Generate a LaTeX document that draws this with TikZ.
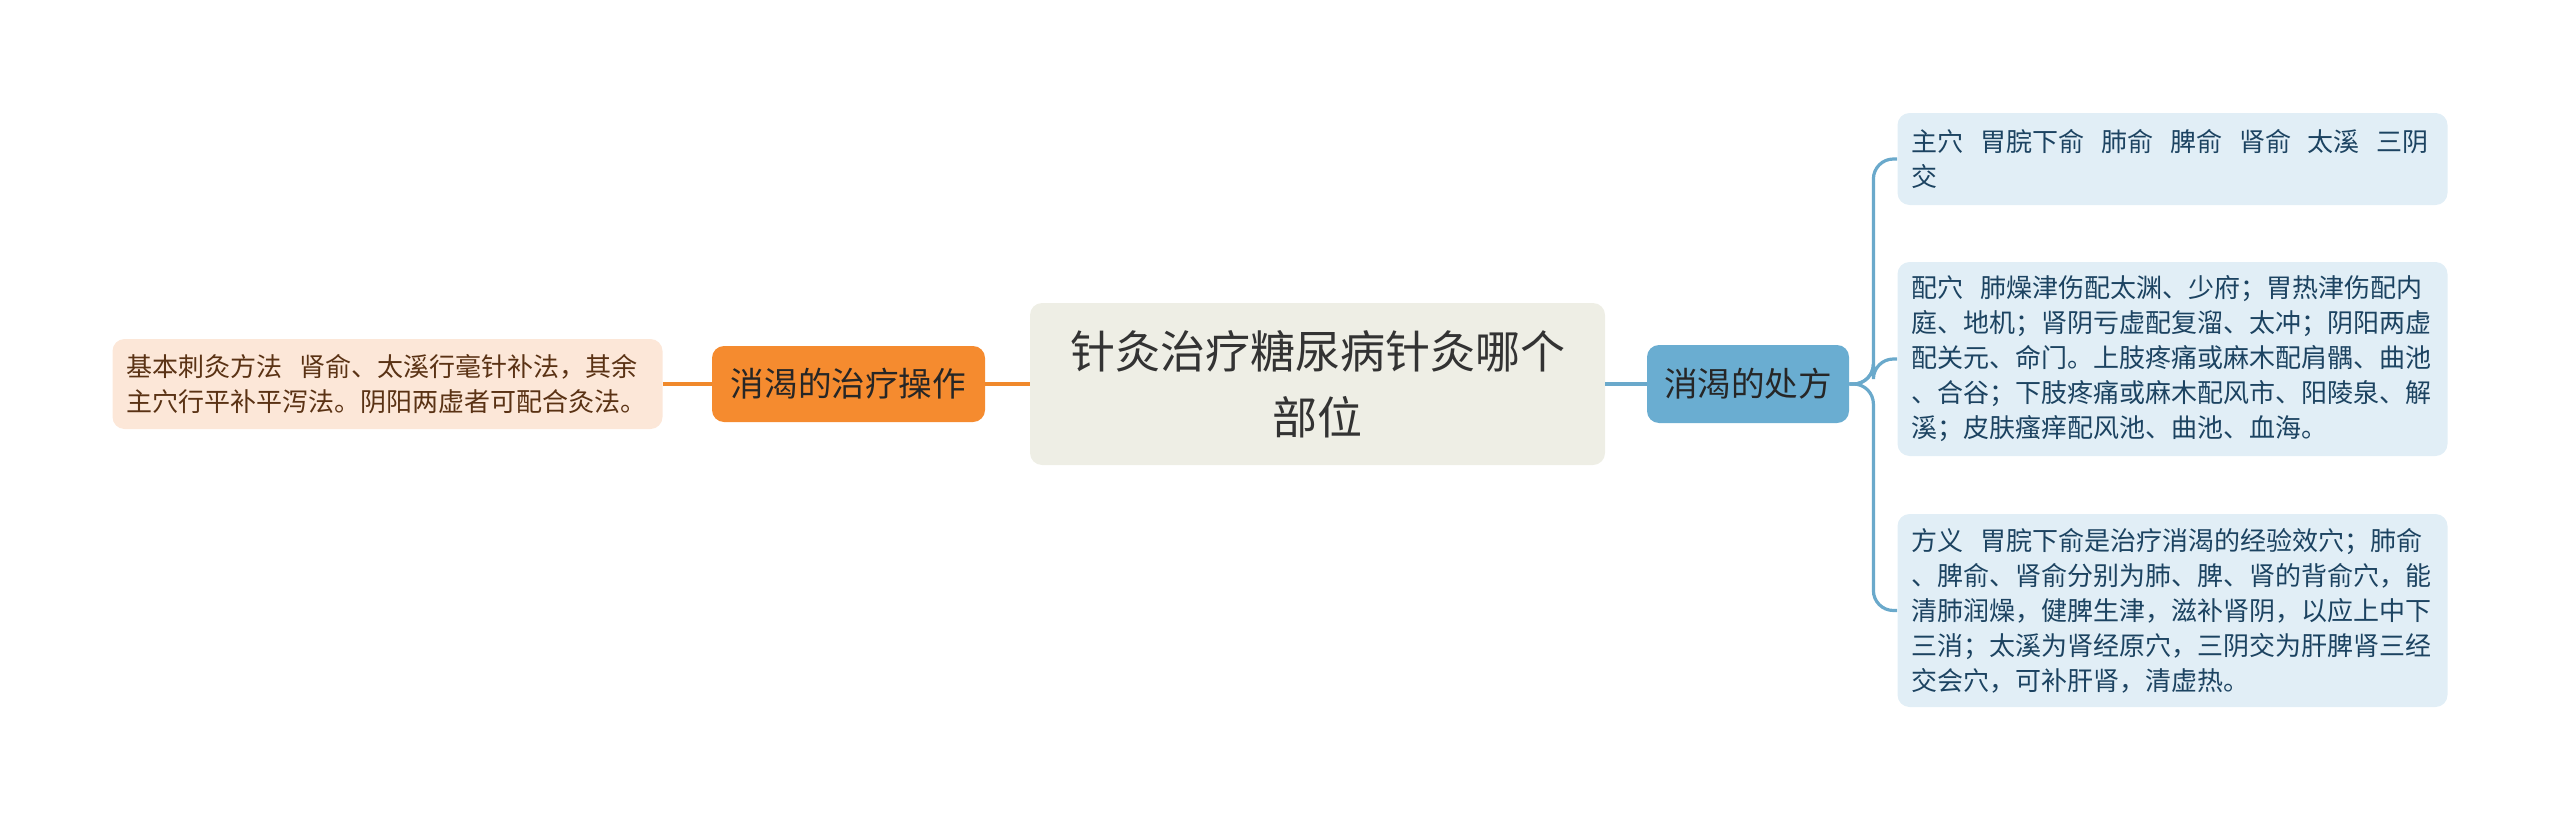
\documentclass[tikz,border=0pt]{standalone}
\usepackage{fontspec}
\setmainfont{Noto Sans CJK SC}
\definecolor{rootbg}{HTML}{EEEEE5}
\definecolor{orangebg}{HTML}{F58B2F}
\definecolor{peachbg}{HTML}{FCE7D8}
\definecolor{browntxt}{HTML}{5A3214}
\definecolor{bluebg}{HTML}{6AADD1}
\definecolor{paleblue}{HTML}{E1EEF6}
\definecolor{navytxt}{HTML}{1C4361}
\definecolor{orangeln}{HTML}{F0892B}
\definecolor{blueln}{HTML}{6AA9CB}

\begin{document}
\begin{tikzpicture}[x=.5pt,y=-.5pt,
    box/.style={rounded corners=6pt,inner ysep=0pt,anchor=center},
    topic/.style={box,fill=rootbg,text=black!80,align=center,
        minimum width=287.5pt,minimum height=81pt,
        font=\fontsize{22.5}{33}\selectfont},
    omain/.style={box,fill=orangebg,text=black!85,minimum width=136.5pt,
        minimum height=38pt,font=\fontsize{16.8}{20}\selectfont},
    bmain/.style={box,fill=bluebg,text=black!85,minimum width=101pt,
        minimum height=39pt,font=\fontsize{16.8}{20}\selectfont},
    leaf/.style={box,text width=261pt,inner xsep=7pt,align=left,
        font=\fontsize{13}{17.5}\selectfont},
    lleaf/.style={leaf,fill=peachbg,text=browntxt},
    rleaf/.style={leaf,fill=paleblue,text=navytxt},
    oline/.style={draw=orangeln,line width=1.6pt},
    bline/.style={draw=blueln,line width=1.6pt,rounded corners=10pt}]
    \useasboundingbox (0,0) rectangle (2560,819);
    \node[topic] (root) at (1317.5,384) {针灸治疗糖尿病针灸哪个\\部位};
    \node[omain] (zl) at (848.5,384) {消渴的治疗操作};
    \node[bmain] (cf) at (1748,384) {消渴的处方};
    \node[lleaf,minimum height=45pt] (cz) at (387.5,384)
        {基本刺灸方法\hspace{.65em}肾俞、太溪行毫针补法，其余\\
         主穴行平补平泻法。阴阳两虚者可配合灸法。};
    \node[rleaf,minimum height=46pt] (zx) at (2172.5,159)
        {主穴\hspace{.65em}胃脘下俞\hspace{.65em}肺俞\hspace{.65em}脾俞\hspace{.65em}肾俞\hspace{.65em}太溪\hspace{.65em}三阴\\
         交};
    \node[rleaf,minimum height=97pt] (px) at (2172.5,359)
        {配穴\hspace{.65em}肺燥津伤配太渊、少府；胃热津伤配内\\
         庭、地机；肾阴亏虚配复溜、太冲；阴阳两虚\\
         配关元、命门。上肢疼痛或麻木配肩髃、曲池\\
         、合谷；下肢疼痛或麻木配风市、阳陵泉、解\\
         溪；皮肤瘙痒配风池、曲池、血海。};
    \node[rleaf,minimum height=96.5pt] (fy) at (2172.5,610.5)
        {方义\hspace{.65em}胃脘下俞是治疗消渴的经验效穴；肺俞\\
         、脾俞、肾俞分别为肺、脾、肾的背俞穴，能\\
         清肺润燥，健脾生津，滋补肾阴，以应上中下\\
         三消；太溪为肾经原穴，三阴交为肝脾肾三经\\
         交会穴，可补肝肾，清虚热。};
    \draw[oline] (cz) -- (zl);
    \draw[oline] (zl) -- (root);
    \draw[bline] (root) -- (cf);
    \foreach \n in {zx,px,fy}{
        \draw[bline] (cf.east) -- ++(24,0) |- (\n.west);
    }
\end{tikzpicture}
\end{document}
